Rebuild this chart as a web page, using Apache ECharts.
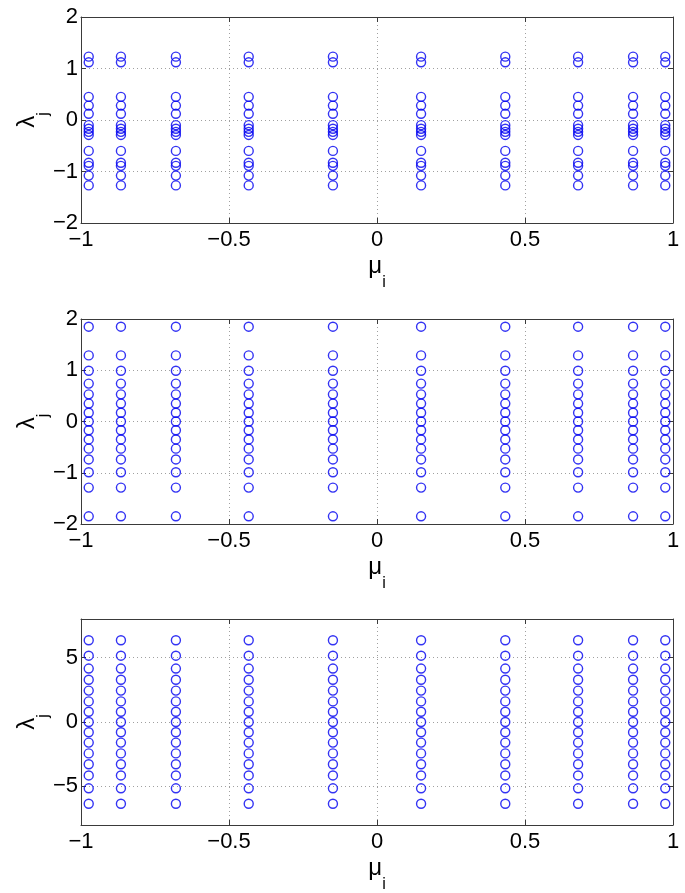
<!DOCTYPE html>
<html><head><meta charset="utf-8">
<script src="https://cdn.jsdelivr.net/npm/echarts@6/dist/echarts.min.js"></script>
<style>html,body{margin:0;padding:0;background:#fff}#c{width:685px;height:893px}</style>
</head><body><div id="c"></div>
<script>
const mu = [-0.9739, -0.8651, -0.6794, -0.4334, -0.1489, 0.1489, 0.4334, 0.6794, 0.8651, 0.9739];
const lambda1 = [1.23, 1.12, 0.45, 0.28, 0.12, -0.1, -0.17, -0.23, -0.29, -0.6, -0.83, -0.89, -1.08, -1.27];
const lambda2 = [1.85, 1.29, 0.99, 0.74, 0.53, 0.35, 0.17, 0, -0.17, -0.35, -0.53, -0.74, -0.99, -1.29, -1.85];
const lambda3 = [6.35, 5.15, 4.15, 3.28, 2.44, 1.6, 0.8, 0, -0.8, -1.6, -2.44, -3.28, -4.15, -5.15, -6.35];
const xTicks = [-1, -0.5, 0, 0.5, 1];
const yTicks12 = [-2, -1, 0, 1, 2];
const yTicks3 = [-5, 0, 5];
const yRanges = [[-2, 2], [-2, 2], [-8, 8]];
const lambdas = [lambda1, lambda2, lambda3];
const yTickSets = [yTicks12, yTicks12, yTicks3];

const FONT = 'Liberation Sans';
const fmt = v => String(v).replace('-', '\u2212');
const grids = [
  {left: 81, right: 12, top: 17, height: 206, outerBoundsMode: 'none', containLabel: false},
  {left: 81, right: 12, top: 319, height: 205, outerBoundsMode: 'none', containLabel: false},
  {left: 81, right: 12, top: 619, height: 206, outerBoundsMode: 'none', containLabel: false}
];
const lineC = '#3a3a3a';
const gridLine = {show: true, lineStyle: {color: '#a0a0a0', type: [1, 3], width: 1}};
const xAxes = [], yAxes = [], series = [];
grids.forEach((g, i) => {
  const base = {
    gridIndex: i, type: 'value',
    axisLine: {show: true, onZero: false, lineStyle: {color: lineC, width: 1}}
  };
  const tick = vals => ({show: true, inside: true, length: 5, lineStyle: {color: lineC}, customValues: vals});
  xAxes.push(Object.assign({}, base, {
    position: 'bottom', min: -1, max: 1,
    axisTick: tick(xTicks),
    axisLabel: {show: true, customValues: xTicks, formatter: fmt, color: '#000', fontSize: 22, fontFamily: FONT, margin: 6},
    splitLine: gridLine,
    name: '{a|\u03bc}{b|i}', nameLocation: 'middle', nameGap: 31, nameMoveOverlap: false,
    nameTextStyle: {rich: {a: {fontSize: 24, fontFamily: FONT, color: '#000'}, b: {fontSize: 16, fontFamily: FONT, color: '#000', verticalAlign: 'bottom', padding: [0, 0, -13, 0]}}}
  }));
  xAxes.push(Object.assign({}, base, {
    position: 'top', min: -1, max: 1,
    axisTick: tick(xTicks),
    axisLabel: {show: false}, splitLine: {show: false}
  }));
  const yt = yTickSets[i];
  yAxes.push(Object.assign({}, base, {
    position: 'left', min: yRanges[i][0], max: yRanges[i][1],
    axisTick: tick(yt),
    axisLabel: {show: true, customValues: yt, formatter: fmt, color: '#000', fontSize: 22, fontFamily: FONT, margin: 3},
    splitLine: gridLine,
    name: '{a|\u03bb}{b|j}', nameLocation: 'middle', nameGap: 42, nameRotate: 90, nameMoveOverlap: false,
    nameTextStyle: {rich: {a: {fontSize: 24, fontFamily: FONT, color: '#000'}, b: {fontSize: 16, fontFamily: FONT, color: '#000', verticalAlign: 'bottom', padding: [0, 0, -13, 0]}}}
  }));
  yAxes.push(Object.assign({}, base, {
    position: 'right', min: yRanges[i][0], max: yRanges[i][1],
    axisTick: tick(yt),
    axisLabel: {show: false}, splitLine: {show: false}
  }));
  const data = [];
  mu.forEach(m => lambdas[i].forEach(l => data.push([m, l])));
  series.push({
    type: 'scatter', xAxisIndex: 2 * i, yAxisIndex: 2 * i, data: data,
    symbol: 'circle', symbolSize: 9,
    itemStyle: {color: 'rgba(0,0,0,0)', borderColor: '#0000f0', borderWidth: 1.4},
    silent: true, animation: false
  });
});
const chart = echarts.init(document.getElementById('c'), null, {renderer: 'canvas'});
chart.setOption({backgroundColor: '#fff', animation: false, grid: grids, xAxis: xAxes, yAxis: yAxes, series: series});
</script></body></html>
